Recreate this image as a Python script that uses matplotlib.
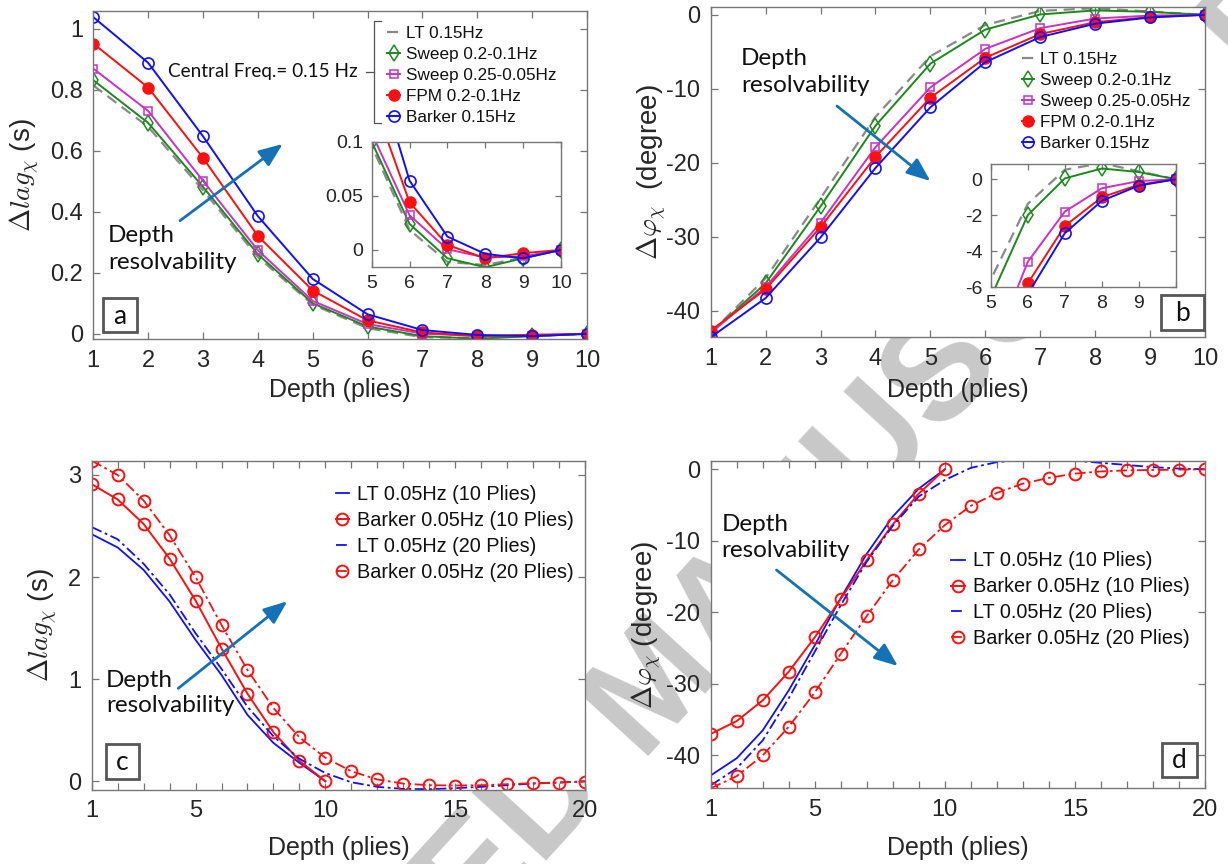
import matplotlib
matplotlib.use('Agg')
import matplotlib.pyplot as plt
from matplotlib.lines import Line2D
from matplotlib.patches import FancyArrowPatch, Rectangle
from matplotlib.ticker import MultipleLocator

plt.rcParams['font.family'] = ['Liberation Sans', 'DejaVu Sans']
plt.rcParams['mathtext.fontset'] = 'cm'
plt.rcParams['axes.unicode_minus'] = False

# ---------------- data ----------------
depth10 = [1, 2, 3, 4, 5, 6, 7, 8, 9, 10]
depth20 = list(range(1, 21))

# panel a: delta lag (s)
a_lt     = [0.815, 0.679, 0.471, 0.252, 0.096, 0.0185, -0.011, -0.014, -0.007, 0.0]
a_sweep1 = [0.832, 0.692, 0.482, 0.261, 0.100, 0.024, -0.0077, -0.016, -0.0077, 0.0]
a_sweep2 = [0.870, 0.731, 0.502, 0.274, 0.108, 0.032, 0.0006, -0.007, -0.006, 0.0]
a_fpm    = [0.952, 0.808, 0.577, 0.321, 0.142, 0.044, 0.0046, -0.0077, -0.003, 0.0]
a_barker = [1.039, 0.889, 0.648, 0.386, 0.180, 0.064, 0.0123, -0.0037, -0.0077, 0.0]

# panel b: delta phase (degree)
b_lt     = [-43.0, -35.6, -24.8, -13.8, -5.6, -1.37, 0.53, 0.9, 0.44, 0.0]
b_sweep1 = [-43.0, -36.3, -25.9, -15.0, -6.6, -2.0, 0.05, 0.6, 0.4, 0.0]
b_sweep2 = [-43.0, -36.8, -28.1, -17.9, -9.8, -4.6, -1.8, -0.5, -0.1, 0.0]
b_fpm    = [-42.7, -37.1, -28.7, -19.2, -11.2, -5.8, -2.6, -1.0, -0.3, 0.0]
b_barker = [-43.6, -38.3, -30.1, -20.7, -12.5, -6.4, -3.0, -1.2, -0.35, 0.0]

# panel c: delta lag (s), 0.05 Hz
c_lt10     = [2.42, 2.29, 2.07, 1.76, 1.385, 1.04, 0.65, 0.375, 0.18, 0.0]
c_barker10 = [2.91, 2.76, 2.52, 2.18, 1.77, 1.30, 0.857, 0.48, 0.20, 0.0]
c_lt20     = [2.49, 2.37, 2.13, 1.83, 1.45, 1.10, 0.73, 0.44, 0.22, 0.08,
              -0.01, -0.055, -0.075, -0.078, -0.068, -0.055, -0.039, -0.023, -0.013, 0.0]
c_barker20 = [3.14, 3.00, 2.75, 2.41, 2.00, 1.53, 1.09, 0.717, 0.43, 0.23,
              0.098, 0.017, -0.023, -0.039, -0.042, -0.039, -0.029, -0.019, -0.013, -0.003]

# panel d: delta phase (degree), 0.05 Hz
d_lt10     = [-42.8, -40.4, -36.5, -30.9, -24.6, -18.0, -11.8, -6.6, -2.7, 0.0]
d_barker10 = [-37.0, -35.2, -32.3, -28.3, -23.5, -18.1, -12.7, -7.7, -3.4, 0.0]
d_lt20     = [-44.2, -41.8, -37.9, -32.0, -25.5, -19.0, -12.9, -7.9, -3.8, -1.5,
              0.2, 1.0, 1.3, 1.3, 1.2, 0.9, 0.6, 0.3, 0.1, 0.0]
d_barker20 = [-44.6, -42.9, -40.0, -36.0, -31.2, -25.8, -20.5, -15.5, -11.2, -7.8,
              -5.1, -3.3, -2.0, -1.2, -0.6, -0.3, -0.15, -0.1, -0.05, 0.0]

labels_ab = ['LT 0.15Hz', 'Sweep 0.2-0.1Hz', 'Sweep 0.25-0.05Hz', 'FPM 0.2-0.1Hz', 'Barker 0.15Hz']
labels_cd = ['LT 0.05Hz (10 Plies)', 'Barker 0.05Hz (10 Plies)',
             'LT 0.05Hz (20 Plies)', 'Barker 0.05Hz (20 Plies)']

a_yticks = [0, 0.2, 0.4, 0.6, 0.8, 1.0]
a_yticklabels = ['0', '0.2', '0.4', '0.6', '0.8', '1']
a_in_yticks = [0, 0.05, 0.1]
a_in_yticklabels = ['0', '0.05', '0.1']
b_yticks = [-40, -30, -20, -10, 0]
b_yticklabels = ['-40', '-30', '-20', '-10', '0']
b_in_yticks = [-6, -4, -2, 0]
b_in_yticklabels = ['-6', '-4', '-2', '0']
c_yticks = [0, 1, 2, 3]
d_yticks = [-40, -30, -20, -10, 0]
d_yticklabels = ['-40', '-30', '-20', '-10', '0']
cd_xticks = [1, 5, 10, 15, 20]
inset_xticks = [5, 6, 7, 8, 9, 10]
a_in_xticklabels = ['5', '6', '7', '8', '9', '10']
b_in_xticklabels = ['5', '6', '7', '8', '9', '']   # "10" is hidden under the "b" box

# ---------------- styles ----------------
W, H = 1228, 864
C_GRAY = '#8a8a8a'
C_GREEN = '#1b8a1b'
C_MAG = '#c832c8'
C_RED = '#ff1010'
C_BLUE = '#1010ff'
C_ARROW = '#1572b6'
SPINE = '#767676'
TXT = '#262626'
SERIF_FONT = ['Lato', 'DejaVu Sans']

fig = plt.figure(figsize=(W / 100, H / 100), dpi=100)


def rect(l, t, r, b):
    return [l / W, 1 - b / H, (r - l) / W, (b - t) / H]


def fx(x):
    return x / W


def fy(y):
    return 1 - y / H


def style(ax, fs=17, pad=7.5, length=5):
    ax.set_facecolor('white')
    for s in ax.spines.values():
        s.set_color(SPINE)
        s.set_linewidth(1.0)
    ax.tick_params(which='both', direction='in', top=True, right=True, length=length,
                   width=0.9, color=SPINE, labelsize=fs, labelcolor=TXT, pad=pad)


def set_labels(ax, box, xl, yl, xlab_y, ylab_x):
    l, t, r, b = box
    ax.set_xlabel(xl, fontsize=18, color=TXT)
    ax.set_ylabel(yl, fontsize=20, color=TXT)
    ax.xaxis.label.set_va('center')
    ax.yaxis.label.set_va('center')
    ax.xaxis.set_label_coords(0.5, (b - xlab_y) / (b - t))
    ax.yaxis.set_label_coords((ylab_x - l) / (r - l), 0.5)


def plot_ab(ax, x, lt, s1, s2, fpm, bk):
    h = []
    h += ax.plot(x, lt, color=C_GRAY, lw=1.6, dashes=(5, 3))
    h += ax.plot(x, s1, color=C_GREEN, lw=1.4, marker='d', ms=8, mfc='none', mew=1.1)
    h += ax.plot(x, s2, color=C_MAG, lw=1.4, marker='s', ms=5.5, mfc='none', mew=1.1)
    h += ax.plot(x, fpm, color=C_RED, lw=1.4, marker='o', ms=8, mfc=C_RED, mec=C_RED)
    h += ax.plot(x, bk, color=C_BLUE, lw=1.4, marker='o', ms=8, mfc='none', mew=1.2)
    return h


def legend(ax, handles, labels, left, top, fs, ls, hl=0.75, tp=0.35):
    leg = ax.legend(handles, labels, loc='upper left', bbox_to_anchor=(fx(left), fy(top)),
                    bbox_transform=fig.transFigure, frameon=False, fontsize=fs, handlelength=hl,
                    handletextpad=tp, labelspacing=ls, borderpad=0, borderaxespad=0)
    for t in leg.get_texts():
        t.set_color('#111111')
    return leg


def label_box(l, t, r, b, s):
    fig.add_artist(Rectangle((fx(l), fy(b)), (r - l) / W, (b - t) / H, transform=fig.transFigure,
                             facecolor='white', edgecolor='#575757', lw=2.0, zorder=5))
    fig.text(fx((l + r) / 2), fy((t + b) / 2 + 1), s, ha='center', va='center', fontsize=19,
             family=SERIF_FONT, color='#111111', zorder=6)


def arrow(x0, y0, x1, y1):
    fig.add_artist(FancyArrowPatch((fx(x0), fy(y0)), (fx(x1), fy(y1)), transform=fig.transFigure,
                                   arrowstyle='-|>,head_length=0.8,head_width=0.32', mutation_scale=18,
                                   color=C_ARROW, lw=2.0, shrinkA=0, shrinkB=0, zorder=4))


def depth_text(x, y, ls=1.3):
    fig.text(fx(x), fy(y), 'Depth\nresolvability', ha='left', va='center', fontsize=17.5,
             family=SERIF_FONT, color='#111111', linespacing=ls, zorder=4)


# ---------------- watermark (behind the white axes) ----------------
WM = dict(rotation=47.6, rotation_mode='anchor', va='baseline', fontsize=106,
          fontweight='bold', color='#c8c8c8', zorder=-10)
fig.text(fx(638), fy(756), 'MANUSCRIPT', ha='left', **WM)
fig.text(fx(610.5), fy(786), 'ACCEPTED', ha='right', **WM)

# ---------------- panel a ----------------
box_a = (93.3, 10.7, 587, 339.3)
ax_a = fig.add_axes(rect(*box_a))
style(ax_a)
ha_ = plot_ab(ax_a, depth10, a_lt, a_sweep1, a_sweep2, a_fpm, a_barker)
ax_a.set_xlim(1, 10)
ax_a.set_ylim(-0.018, 1.06)
ax_a.set_xticks(depth10)
ax_a.set_yticks(a_yticks, labels=a_yticklabels)
set_labels(ax_a, box_a, 'Depth (plies)', r'$\Delta lag_{\chi}$ (s)', 390, 25)
legend(ax_a, ha_, labels_ab, 387.5, 25.5, 12.3, 0.36)

box_ai = (371.7, 141.7, 561, 266.7)
ax_ai = fig.add_axes(rect(*box_ai))
style(ax_ai, fs=14, pad=6, length=4)
plot_ab(ax_ai, depth10, a_lt, a_sweep1, a_sweep2, a_fpm, a_barker)
ax_ai.set_xlim(5, 10)
ax_ai.set_ylim(-0.0155, 0.1)
ax_ai.set_xticks(inset_xticks, labels=a_in_xticklabels)
ax_ai.set_yticks(a_in_yticks, labels=a_in_yticklabels)

fig.text(fx(168.3), fy(72), 'Central Freq.= 0.15 Hz', ha='left', va='center', fontsize=13.6,
         family=SERIF_FONT, color='#111111')
br = dict(transform=fig.transFigure, color='#555555', lw=0.9)
fig.add_artist(Line2D([fx(381), fx(374.3), fx(374.3), fx(381)],
                      [fy(20.7), fy(20.7), fy(122.7), fy(122.7)], **br))
fig.add_artist(Line2D([fx(365.5), fx(374.3)], [fy(72), fy(72)], **br))

label_box(103, 298, 137, 332, 'a')
arrow(180, 220.7, 282.7, 144)
depth_text(108, 249)

# ---------------- panel b ----------------
box_b = (710.7, 6.7, 1205, 337.3)
ax_b = fig.add_axes(rect(*box_b))
style(ax_b)
hb = plot_ab(ax_b, depth10, b_lt, b_sweep1, b_sweep2, b_fpm, b_barker)
ax_b.set_xlim(1, 10)
ax_b.set_ylim(-43.6, 1.1)
ax_b.set_xticks(depth10)
ax_b.set_yticks(b_yticks, labels=b_yticklabels)
set_labels(ax_b, box_b, 'Depth (plies)', r'$\Delta\varphi_{\chi}$  (degree)', 390, 652)
legend(ax_b, hb, labels_ab, 1021.5, 52, 12.3, 0.35)

box_bi = (990.7, 164, 1176, 287)
ax_bi = fig.add_axes(rect(*box_bi))
style(ax_bi, fs=14, pad=6, length=4)
plot_ab(ax_bi, depth10, b_lt, b_sweep1, b_sweep2, b_fpm, b_barker)
ax_bi.set_xlim(5, 10)
ax_bi.set_ylim(-6, 0.85)
ax_bi.set_xticks(inset_xticks, labels=b_in_xticklabels)
ax_bi.set_yticks(b_in_yticks, labels=b_in_yticklabels)

label_box(1160.7, 295, 1204, 330, 'b')
arrow(837, 106, 930.4, 181)
depth_text(741, 72)


# ---------------- panels c, d ----------------
def plot_cd(ax, lt10, bk10, lt20, bk20):
    h = []
    h += ax.plot(depth10, lt10, color=C_BLUE, lw=1.3)
    h += ax.plot(depth10, bk10, color=C_RED, lw=1.4, marker='o', ms=8.5, mfc='none', mew=1.4)
    h += ax.plot(depth20, lt20, color=C_BLUE, lw=1.3, dashes=(6, 2, 1.5, 2))
    h += ax.plot(depth20, bk20, color=C_RED, lw=1.3, dashes=(6, 2, 1.5, 2), marker='o', ms=8.5,
                 mfc='none', mew=1.4)
    return h


box_c = (91.7, 460.7, 585, 789.5)
ax_c = fig.add_axes(rect(*box_c))
style(ax_c)
hc = plot_cd(ax_c, c_lt10, c_barker10, c_lt20, c_barker20)
ax_c.set_xlim(1, 20)
ax_c.set_ylim(-0.081, 3.14)
ax_c.set_xticks(cd_xticks)
ax_c.xaxis.set_minor_locator(MultipleLocator(1))
ax_c.set_yticks(c_yticks)
set_labels(ax_c, box_c, 'Depth (plies)', r'$\Delta lag_{\chi}$ (s)', 848, 43)
legend(ax_c, hc, labels_cd, 335.5, 485, 14.3, 0.35, hl=0.7, tp=0.4)
label_box(106, 744, 139.3, 779.3, 'c')
arrow(178.3, 688.3, 287.3, 601.3)
depth_text(106, 693, ls=1.22)

box_d = (710.7, 460.7, 1205, 788.3)
ax_d = fig.add_axes(rect(*box_d))
style(ax_d)
hd = plot_cd(ax_d, d_lt10, d_barker10, d_lt20, d_barker20)
ax_d.set_xlim(1, 20)
ax_d.set_ylim(-44.6, 1.2)
ax_d.set_xticks(cd_xticks)
ax_d.xaxis.set_minor_locator(MultipleLocator(1))
ax_d.set_yticks(d_yticks, labels=d_yticklabels)
set_labels(ax_d, box_d, 'Depth (plies)', r'$\Delta\varphi_{\chi}$ (degree)', 848, 647)
legend(ax_d, hd, labels_cd, 951, 551.5, 14.3, 0.35, hl=0.7, tp=0.4)
label_box(1162, 743, 1197, 777, 'd')
arrow(776.5, 570, 897.9, 666)
depth_text(721.7, 537.5)

fig.savefig('out.png', dpi=100)
